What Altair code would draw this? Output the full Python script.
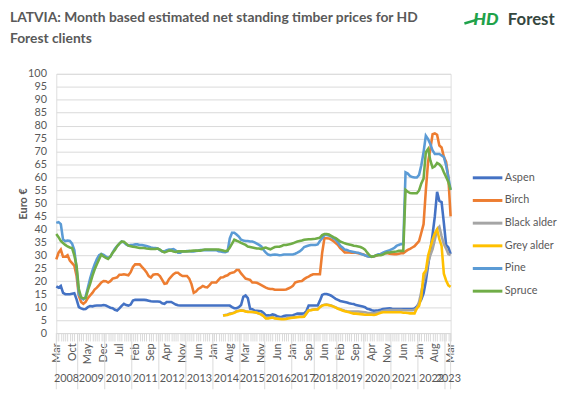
import altair as alt
import pandas as pd

SERIES = ["Aspen", "Birch", "Black alder", "Grey alder", "Pine", "Spruce"]
COLORS = ["#4472C4", "#ED7D31", "#A5A5A5", "#FFC000", "#5B9BD5", "#70AD47"]
MONTH_ABBR = ["Jan", "Feb", "Mar", "Apr", "May", "Jun", "Jul", "Aug", "Sep", "Oct", "Nov", "Dec"]
MISSING = [(2015, 8), (2017, 4), (2017, 11), (2018, 2), (2018, 9)]
START = (2008, 3)
END = (2023, 3)
ALDER_START = 74

aspen = [18, 17.5, 18.2, 15.5, 15, 15, 15, 15.2, 15.4, 13,
         10, 9.5, 9.2, 9.3, 10, 10.4, 10.3, 10.5, 10.6, 10.6,
         10.6, 10.8, 10.6, 10.2, 9.8, 9.6, 9, 8.7, 9.5, 10.5,
         11.3, 10.8, 10.6, 11, 12.5, 12.8, 12.8, 12.8, 12.8, 12.8,
         12.7, 12.5, 12.3, 12.2, 12.2, 12.2, 12.1, 11.5, 11.3, 12,
         12, 12, 11.5, 11, 10.7, 10.6, 10.6, 10.6, 10.6, 10.6,
         10.6, 10.6, 10.6, 10.6, 10.6, 10.6, 10.6, 10.6, 10.6, 10.6,
         10.6, 10.6, 10.6, 10.6, 10.6, 10.6, 10.6, 10.6, 10, 9.6,
         9.6, 10, 10.8, 14, 14.5, 13.5, 9.4, 9.2, 8.7, 8.6,
         8.5, 8.4, 7.8, 6.8, 6.9, 6.8, 7.2, 7.0, 6.5, 6.3,
         6.2, 6.6, 6.8, 6.8, 6.8, 6.9, 7.2, 7.5, 7.5, 7.5,
         7.6, 8.5, 10.6, 10.6, 10.6, 10.6, 10.6, 12.5, 14.7, 15.1,
         15.1, 14.8, 14.4, 13.8, 13.2, 12.8, 12.4, 12.2, 12, 11.8,
         11.5, 11.3, 11.2, 10.8, 10.6, 10.4, 10.2, 10, 9.4, 9.2,
         8.8, 8.6, 8.7, 8.8, 9.0, 9.3, 9.4, 9.5, 9.6, 9.4,
         9.3, 9.3, 9.3, 9.3, 9.3, 9.3, 9.3, 9.3, 9.3, 9.5,
         10.2, 11.5, 13, 15.3, 20, 26, 32, 38, 45, 54.5,
         51, 50.5, 42.5, 34, 33, 30.5]

birch = [28.4, 31, 32.2, 29.4, 29.4, 30, 28, 27, 26, 22,
         14.4, 12, 11.3, 12, 13.5, 14.5, 15.5, 16.8, 17.5, 18.5,
         19.5, 20.1, 20, 19.5, 20, 21, 21.2, 21.5, 22.5, 22.5,
         22.7, 22.5, 22.3, 23.5, 25.5, 26.5, 26.5, 26.5, 25.5, 24.6,
         23.5, 22, 21.4, 22.5, 22.7, 22.7, 22, 20.5, 19, 19.2,
         20.8, 21.8, 22.7, 23.3, 23.3, 22.5, 22, 22, 22, 21,
         18.9, 15.5, 16, 17, 17.5, 18.2, 17.8, 17.6, 18.5, 19.5,
         19.5, 19.5, 20.5, 21.4, 21.5, 22, 22.3, 23, 23.3, 23.5,
         24.3, 24.3, 23, 22, 21, 20.8, 20.5, 19.5, 19.5, 19.4,
         19, 18.5, 18, 17.5, 17.2, 17, 17, 16.7, 16.7, 16.7,
         16.7, 16.7, 16.8, 17.2, 17.6, 18.2, 19.5, 19.8, 20, 20.1,
         20.8, 21.4, 21.8, 22.3, 22.7, 22.7, 22.7, 22.7, 31, 36.6,
         36.6, 36.5, 36, 35.5, 34.7, 34, 32.8, 32, 31.1, 31.1,
         31.1, 31, 31, 31, 30.8, 30.6, 30.4, 30, 29.7, 29.4,
         29.4, 29.6, 29.8, 30.2, 30.5, 30.8, 30.8, 30.8, 30.6, 30.5,
         30.4, 30.4, 30.6, 30.8, 30.8, 31.5, 32.1, 32.5, 33, 33.5,
         34.5, 35.5, 38.7, 42, 55, 66, 71, 76.7, 77, 76.5,
         72.3, 71.6, 68, 66, 60, 45]

pine = [42.5, 42.8, 42, 36, 35.5, 35.7, 35.5, 34.5, 32, 25,
        15, 13.5, 13, 14, 17.5, 21, 24, 26.5, 28.5, 30,
        30.5, 30.2, 29.5, 29, 29.5, 31, 32.5, 33.5, 34.5, 35.3,
        35, 34.2, 33.7, 34, 34, 34.2, 34.2, 34, 34, 33.8,
        33.6, 33.3, 33, 32.8, 32.8, 32.6, 32, 31.5, 31.5, 32,
        32.2, 32.2, 32.4, 31.8, 31, 31, 31.5, 31.5, 31.6, 31.6,
        31.5, 31.5, 31.7, 31.8, 32, 32, 32, 32, 32, 32,
        32, 32, 31.6, 31.5, 31.3, 31.2, 31.5, 36.5, 38.7, 38.7,
        38, 37.2, 36, 35.7, 35.5, 35.5, 35.3, 35.3, 35, 34.5,
        34, 33.4, 32, 31, 30.3, 30, 30.2, 30.3, 30.2, 30,
        30.1, 30.3, 30.3, 30.3, 30.3, 30.3, 30.6, 31, 31.5, 32.2,
        33.2, 33.5, 33.8, 34, 34, 34, 34.2, 35.5, 36.6, 37.8,
        37.8, 37.6, 37.2, 36.6, 36, 35, 33.7, 33, 32.2, 32,
        31.7, 31.5, 31.3, 31.1, 31, 30.6, 30.3, 30, 29.6, 29.4,
        29.4, 29.6, 30, 30.4, 30.5, 31, 31.4, 31.7, 32, 32.4,
        32.8, 33.6, 34, 34.3, 34.3, 62, 61.5, 60.5, 60.2, 60,
        60, 61, 64.7, 69.8, 76.1, 74.8, 72.9, 70.4, 69.1, 69.1,
        69.1, 68.5, 67.9, 64.7, 60.2, 55.2]

spruce = [38.2, 37, 35.5, 34.7, 34, 33.4, 33, 32.8, 30, 25.8,
          17, 13.8, 13.4, 13.4, 16.5, 19, 22, 24.5, 26.5, 28.5,
          30.3, 29.5, 29, 28.6, 29.5, 31, 32, 33.5, 34.5, 35.3,
          35.2, 34.5, 33.7, 33.5, 33.3, 33.2, 33, 32.8, 32.8, 32.8,
          32.6, 32.5, 32.4, 32.4, 32.4, 32.6, 32.2, 31.5, 31.1, 31.4,
          31.8, 31.8, 31.5, 31.3, 31.5, 31.5, 31.5, 31.5, 31.5, 31.6,
          31.7, 31.8, 31.8, 31.8, 31.8, 32, 32.2, 32.2, 32.2, 32.2,
          32.2, 32.2, 32.2, 32, 31.8, 31.6, 31.8, 33, 34.5, 36,
          35.6, 35.3, 34.8, 34.4, 34, 33.4, 33.2, 33, 32.8, 32.6,
          32.6, 32.4, 32.8, 33, 32.6, 32.3, 32.8, 33.2, 33.3, 33.3,
          33.6, 34, 34, 34.2, 34.4, 34.6, 35, 35.3, 35.5, 35.7,
          36, 36.1, 36.2, 36.2, 36.3, 36.4, 36.6, 36.8, 37.8, 38.2,
          38.2, 38, 37.5, 37, 36.6, 36, 35.3, 35, 34.6, 34.4,
          34.2, 34, 33.7, 33.6, 33.4, 33.2, 32.8, 32.2, 31, 30,
          29.4, 29.6, 30, 30, 30, 30.3, 30.8, 31.1, 31.1, 31.3,
          31.4, 31.5, 31.7, 31.7, 31.7, 55.2, 54.5, 54, 53.9, 53.9,
          53.9, 55, 57.7, 59.6, 69.8, 71, 66.6, 63.8, 64.3, 65.6,
          65.1, 64.1, 62, 60.2, 58.3, 55.2]

grey_alder = [6.8, 6.9, 7, 7.3, 7.5, 7.8,
              8.3, 8.5, 8.7, 8.6, 8.3, 8.1, 8.1, 8.1, 8, 7.8,
              7.5, 7.1, 6.5, 5.6, 5.6, 5.8, 6, 5.6, 5.5, 5.4,
              5.3, 5.3, 5.4, 5.6, 5.8, 5.9, 6, 6.1, 6.2, 6.2,
              6.3, 7.5, 8.7, 8.8, 9, 9.1, 9.1, 10, 10.6, 10.8,
              10.9, 10.7, 10.5, 10.2, 9.8, 9.4, 9.1, 8.7, 8.4, 8.2,
              8, 7.7, 7.5, 7.5, 7.4, 7.3, 7.2, 7.1, 7.1, 7.1,
              7.1, 7, 7.2, 7.5, 7.8, 8, 8, 8, 8, 8,
              8, 8, 8, 8, 7.8, 7.8, 7.7, 7.6, 7.6, 7.6,
              9.5, 10.5, 14, 22.9, 24.1, 29.8, 33, 36, 38.5, 40,
              36.2, 33.6, 22.9, 20.3, 18.4, 17.8]

black_alder = [6.8, 7, 7.2, 7.5, 7.6, 8,
               8.4, 8.6, 8.8, 8.7, 8.4, 8.2, 8.2, 8.1, 8, 7.8,
               7.5, 7.2, 6.6, 5.8, 5.8, 6, 6.2, 5.8, 5.7, 5.6,
               5.6, 5.6, 5.7, 5.9, 6, 6.1, 6.2, 6.3, 6.4, 6.4,
               6.5, 7.6, 8.8, 8.9, 9.1, 9.2, 9.2, 10.1, 10.7, 10.9,
               11, 10.8, 10.6, 10.3, 9.9, 9.5, 9.2, 8.9, 8.6, 8.4,
               8.3, 8.3, 8.3, 8.3, 8.3, 8.2, 8.1, 8, 7.8, 7.7,
               7.6, 7.6, 7.8, 8, 8.2, 8.5, 8.7, 8.8, 8.9, 8.9,
               8.9, 8.9, 8.9, 8.9, 8.8, 8.8, 8.8, 8.8, 8.8, 9,
               9.6, 12, 15.9, 20, 22.9, 27.3, 30, 32.4, 36, 40,
               41, 37.4, 34.3, 32.6, 30.5, 30.1]

TITLE_LINES = ["LATVIA: Month based estimated net standing timber prices for HD",
               "Forest clients"]

# ---- categories (month axis) ----
cats = []
y, m = START
while (y, m) <= END:
    if (y, m) not in MISSING:
        cats.append((y, m))
    m += 1
    if m > 12:
        m, y = 1, y + 1
N = len(cats)

rows = []
full = {"Aspen": aspen, "Birch": birch, "Pine": pine, "Spruce": spruce}
for s, vals in full.items():
    for i, v in enumerate(vals):
        rows.append({"idx": i, "series": s, "value": v})
for s, vals in {"Black alder": black_alder, "Grey alder": grey_alder}.items():
    for k, v in enumerate(vals):
        rows.append({"idx": ALDER_START + k, "series": s, "value": v})
df = pd.DataFrame(rows)

# year groups
years = sorted(set(c[0] for c in cats))
centers, bounds = [], [0]
for yr in years:
    ids = [i for i, c in enumerate(cats) if c[0] == yr]
    centers.append((ids[0] + ids[-1]) / 2)
    if ids[0] > 0:
        bounds.append(ids[0] - 0.5)
bounds.append(N - 1)
year_df = pd.DataFrame({"year": [str(y) for y in years], "idx": centers})
bound_df = pd.DataFrame({"idx": bounds})

label_arr = ",".join("'" + (MONTH_ABBR[c[1] - 1] if i % 7 == 0 else "") + "'" for i, c in enumerate(cats))
label_expr = "[" + label_arr + "][datum.value]"

W, H = 400, 263
GRID = "#d9d9d9"
TXT = "#595959"
FONT = "Lato"

X_AXIS = alt.Axis(values=list(range(N)), labelExpr=label_expr, labelAngle=270,
                  labelOverlap=False, labelFlush=False, labelBound=False,
                  tickSize=8, tickColor=GRID, domainColor=GRID, labelPadding=2,
                  labelFont=FONT, labelFontSize=11, labelColor=TXT, grid=False, title=None)
X_SCALE = alt.Scale(domain=[0, N - 1], nice=False, zero=False)
Y_AXIS = alt.Axis(values=list(range(0, 101, 5)), grid=True, gridColor=GRID, domain=False,
                  ticks=False, labelPadding=10, labelFont=FONT, labelFontSize=11,
                  labelColor=TXT, labelOverlap=False, title="Euro €", titleFont=FONT,
                  titleFontSize=11, titleFontWeight="bold", titleColor=TXT,
                  titleX=-33, titleY=H / 2, titleAngle=270, titleAlign="center",
                  titleBaseline="middle")
Y_SCALE = alt.Scale(domain=[0, 100], nice=False)


def xenc():
    return alt.X("idx:Q", scale=X_SCALE, axis=X_AXIS)


def yenc():
    return alt.Y("value:Q", scale=Y_SCALE, axis=Y_AXIS)


color = alt.Color("series:N", scale=alt.Scale(domain=SERIES, range=COLORS),
                  legend=alt.Legend(title=None, orient="none", legendX=421, legendY=89,
                                    symbolType="stroke", symbolSize=900, symbolStrokeWidth=3,
                                    labelFont=FONT, labelFontSize=11, labelColor=TXT,
                                    labelOffset=1, rowPadding=0))

layers = []
for s in SERIES:
    layers.append(alt.Chart(df).transform_filter(alt.datum.series == s)
                  .mark_line(strokeWidth=2.6)
                  .encode(x=xenc(), y=yenc(), color=color))

seps = alt.Chart(bound_df).mark_rule(color=GRID, strokeWidth=1).encode(
    x=xenc(), y=alt.value(H), y2=alt.value(H + 57))
yrs = alt.Chart(year_df).mark_text(font=FONT, fontSize=11, color=TXT, baseline="middle").encode(
    x=xenc(), y=alt.value(H + 47), text="year:N")

title_df = pd.DataFrame({"t": TITLE_LINES, "line": [0, 1]})
t1 = alt.Chart(title_df).transform_filter(alt.datum.line == 0).mark_text(
    font=FONT, fontSize=14, fontWeight="bold", color=TXT, align="left", baseline="middle").encode(
    x=alt.value(-47), y=alt.value(-57), text="t:N")
t2 = alt.Chart(title_df).transform_filter(alt.datum.line == 1).mark_text(
    font=FONT, fontSize=14, fontWeight="bold", color=TXT, align="left", baseline="middle").encode(
    x=alt.value(-47), y=alt.value(-35), text="t:N")

logo_df = pd.DataFrame({"a": ["HD"], "b": ["Forest"]})
dash = alt.Chart(logo_df).mark_rule(color="#1FA24A", strokeWidth=2.5).encode(
    x=alt.value(414), x2=alt.value(427), y=alt.value(-51), y2=alt.value(-55))
hd = alt.Chart(logo_df).mark_text(font=FONT, fontSize=18, fontWeight=900, fontStyle="italic",
                                  color="#1FA24A", align="left", baseline="middle").encode(
    x=alt.value(423), y=alt.value(-55), text="a:N")
forest = alt.Chart(logo_df).mark_text(font=FONT, fontSize=17, fontWeight="bold",
                                      color="#35473F", align="left", baseline="middle").encode(
    x=alt.value(458), y=alt.value(-55), text="b:N")

chart = alt.layer(*layers, seps, yrs, t1, t2, dash, hd, forest).properties(
    width=W, height=H,
    autosize=alt.AutoSizeParams(type="none"),
    padding={"left": 49, "top": 64, "right": 113, "bottom": 55},
).configure_view(stroke=None).configure(background="white")

chart.save("out.html", embed_options={"renderer": "svg", "actions": False})
